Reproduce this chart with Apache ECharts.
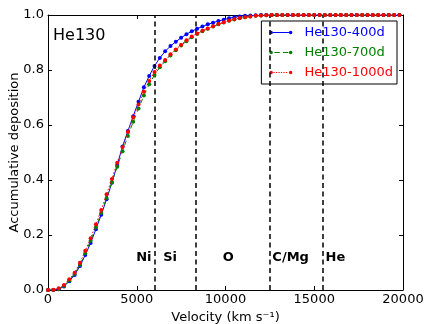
<!DOCTYPE html>
<html>
<head>
<meta charset="utf-8">
<script src="https://cdn.jsdelivr.net/npm/echarts@6/dist/echarts.min.js"></script>
<style>
  html, body { margin: 0; padding: 0; background: #fff; }
  #chart { width: 427px; height: 324px; }
</style>
</head>
<body>
<div id="chart"></div>
<script>
// Ejecta velocity grid (km/s)
const velocity = [0,300,600,900,1200,1500,1800,2100,2400,2700,3000,3300,3600,3900,4200,4500,4800,5100,5400,5700,
  6000,6300,6600,6900,7200,7500,7800,8100,8400,8700,9000,9300,9600,9900,10200,10500,10800,11100,11400,11700,
  12000,12300,12600,12900,13200,13500,13800,14100,14400,14700,15000,15300,15600,15900,16200,16500,16800,17100,
  17400,17700,18000,18300,18600,18900,19200,19500,19800];

// Accumulative energy deposition at three epochs
const dep400 = [0,0.000,0.003,0.013,0.032,0.055,0.087,0.127,0.171,0.221,0.274,0.330,0.390,0.455,0.522,0.578,0.632,0.685,0.737,0.778,
  0.815,0.844,0.868,0.887,0.903,0.917,0.930,0.941,0.950,0.958,0.966,0.972,0.978,0.983,0.988,0.992,0.995,0.997,0.998,0.999,
  1.000,1.000,1.000,1.000,1.000,1.000,1.000,1.000,1.000,1.000,1.000,1.000,1.000,1.000,1.000,1.000,1.000,1.000,
  1.000,1.000,1.000,1.000,1.000,1.000,1.000,1.000,1.000];
const dep700 = [0,0.000,0.004,0.015,0.035,0.058,0.092,0.134,0.179,0.228,0.280,0.335,0.392,0.448,0.505,0.560,0.612,0.660,0.707,0.748,
  0.782,0.810,0.832,0.853,0.872,0.889,0.905,0.919,0.931,0.941,0.950,0.958,0.966,0.973,0.979,0.984,0.988,0.992,0.995,0.997,
  0.998,0.999,1.000,1.000,1.000,1.000,1.000,1.000,1.000,1.000,1.000,1.000,1.000,1.000,1.000,1.000,1.000,1.000,
  1.000,1.000,1.000,1.000,1.000,1.000,1.000,1.000,1.000];
const dep1000 = [0,0.001,0.006,0.018,0.039,0.063,0.099,0.143,0.188,0.239,0.291,0.348,0.404,0.463,0.520,0.575,0.628,0.675,0.722,0.760,
  0.793,0.816,0.836,0.857,0.875,0.892,0.908,0.922,0.933,0.943,0.951,0.959,0.967,0.974,0.980,0.985,0.989,0.992,0.995,0.997,
  0.998,0.999,1.000,1.000,1.000,1.000,1.000,1.000,1.000,1.000,1.000,1.000,1.000,1.000,1.000,1.000,1.000,1.000,
  1.000,1.000,1.000,1.000,1.000,1.000,1.000,1.000,1.000];

const seriesNames = ['He130-400d', 'He130-700d', 'He130-1000d'];

// Composition zone boundaries (km/s) and zone labels
const zoneBounds = [6000, 8300, 12500, 15500];
const zoneNames = ['Ni', 'Si', 'O', 'C/Mg', 'He'];
const zoneLabelX = [5830, 6490, 10150, 12640, 15640];
const zoneLabelAlign = ['right', 'left', 'center', 'left', 'left'];
const zoneLabelY = 0.116;

// Axis ticks
const xTicks = [0, 5000, 10000, 15000, 20000];
const yTickLabels = ['0.0', '0.2', '0.4', '0.6', '0.8', '1.0'];

const FONT = 'DejaVu Sans';
const pair = (ys) => velocity.map((v, i) => [v, ys[i]]);

// Legend glyphs: marker dots joined by solid / dashed / dotted strokes
const dot = (cx) => `M${cx - 3.5},3.5 a3.5,3.5 0 1,0 7,0 a3.5,3.5 0 1,0 -7,0 Z `;
const bar = (x0, x1) => `M${x0},2.5 L${x1},2.5 L${x1},4.5 L${x0},4.5 Z `;
const iconSolid = 'path://' + dot(3.5) + dot(42.5) + bar(7, 39);
const iconDashed = 'path://' + dot(3.5) + dot(42.5) + bar(10, 21) + bar(27, 38);
let dots = '';
for (let x = 8; x < 38; x += 5) dots += bar(x, x + 2.5);
const iconDotted = 'path://' + dot(3.5) + dot(42.5) + dots;

const colors = ['#0000ff', '#008000', '#ff0000'];

const chart = echarts.init(document.getElementById('chart'), null, { renderer: 'canvas' });

const axisCommon = {
  min: 0,
  splitLine: { show: false },
  axisLine: { show: true, onZero: false, lineStyle: { color: '#000', width: 1 } },
  axisTick: { show: true, inside: true, length: 4, lineStyle: { color: '#000' } },
};

chart.setOption({
  animation: false,
  textStyle: { fontFamily: FONT },
  grid: { left: 48, right: 24, top: 15, bottom: 34, show: false, containLabel: false, outerBoundsMode: 'none' },
  legend: {
    orient: 'vertical',
    right: 30,
    top: 21,
    itemWidth: 23,
    itemHeight: 3.5,
    itemGap: 7,
    padding: [5, 4, 5, 8],
    borderColor: '#000',
    borderWidth: 1,
    backgroundColor: '#fff',
    selectedMode: false,
    textStyle: { fontFamily: FONT, fontSize: 13, padding: [0, 0, 0, 7] },
    data: [
      { name: seriesNames[0], icon: iconSolid, textStyle: { color: colors[0] } },
      { name: seriesNames[1], icon: iconDashed, textStyle: { color: colors[1] } },
      { name: seriesNames[2], icon: iconDotted, textStyle: { color: colors[2] } },
    ],
  },
  xAxis: [
    Object.assign({}, axisCommon, {
      type: 'value', position: 'bottom', max: 20000, interval: 5000,
      name: 'Velocity (km s\u207B\u00B9)', nameLocation: 'middle', nameGap: 20,
      nameTextStyle: { fontFamily: FONT, fontSize: 13, color: '#000' },
      axisLabel: {
        fontFamily: FONT, fontSize: 13, color: '#000', margin: 3,
        formatter: (v) => (xTicks.indexOf(v) >= 0 ? String(v) : ''),
      },
    }),
    Object.assign({}, axisCommon, {
      type: 'value', position: 'top', max: 20000, interval: 5000,
      axisLabel: { show: false },
    }),
  ],
  yAxis: [
    Object.assign({}, axisCommon, {
      type: 'value', position: 'left', max: 1, interval: 0.2,
      name: 'Accumulative deposition', nameLocation: 'middle', nameGap: 27,
      nameMoveOverlap: false,
      nameTextStyle: { fontFamily: FONT, fontSize: 13, color: '#000' },
      axisLabel: {
        fontFamily: FONT, fontSize: 13, color: '#000', margin: 4,
        formatter: (v) => yTickLabels[Math.round(v / 0.2)],
      },
    }),
    Object.assign({}, axisCommon, {
      type: 'value', position: 'right', max: 1, interval: 0.2,
      axisLabel: { show: false },
    }),
  ],
  graphic: [
    {
      type: 'text', left: 53, top: 28, z: 10,
      style: { text: 'He130', fontFamily: FONT, fontSize: 16, fill: '#000' },
    },
  ],
  series: [
    {
      name: 'zones', type: 'line', data: [], silent: true, z: 1,
      markLine: {
        silent: true, symbol: 'none', animation: false,
        label: { show: false },
        lineStyle: { color: '#000', width: 1.5, type: [5, 3.5] },
        data: zoneBounds.map((b) => ({ xAxis: b })),
      },
      markPoint: {
        silent: true, animation: false,
        symbol: 'circle', symbolSize: 0,
        itemStyle: { color: '#000', opacity: 1 },
        label: {
          show: true, position: 'inside', formatter: (p) => p.name,
          fontFamily: FONT, fontSize: 13, fontWeight: 'bold', color: '#000',
          textBorderWidth: 0, textBorderColor: 'transparent',
          verticalAlign: 'middle',
        },
        data: zoneNames.map((n, i) => ({
          name: n, coord: [zoneLabelX[i], zoneLabelY],
          label: { align: zoneLabelAlign[i] },
        })),
      },
    },
    {
      name: seriesNames[0], type: 'line', data: pair(dep400), z: 4,
      symbol: 'circle', symbolSize: 4, showAllSymbol: true,
      itemStyle: { color: colors[0] },
      lineStyle: { color: colors[0], width: 1 },
    },
    {
      name: seriesNames[1], type: 'line', data: pair(dep700), z: 5,
      symbol: 'circle', symbolSize: 4, showAllSymbol: true,
      itemStyle: { color: colors[1] },
      lineStyle: { color: colors[1], width: 1, type: [5, 4] },
    },
    {
      name: seriesNames[2], type: 'line', data: pair(dep1000), z: 6,
      symbol: 'circle', symbolSize: 4, showAllSymbol: true,
      itemStyle: { color: colors[2] },
      lineStyle: { color: colors[2], width: 1, type: [1.5, 2] },
    },
  ],
});
</script>
</body>
</html>
